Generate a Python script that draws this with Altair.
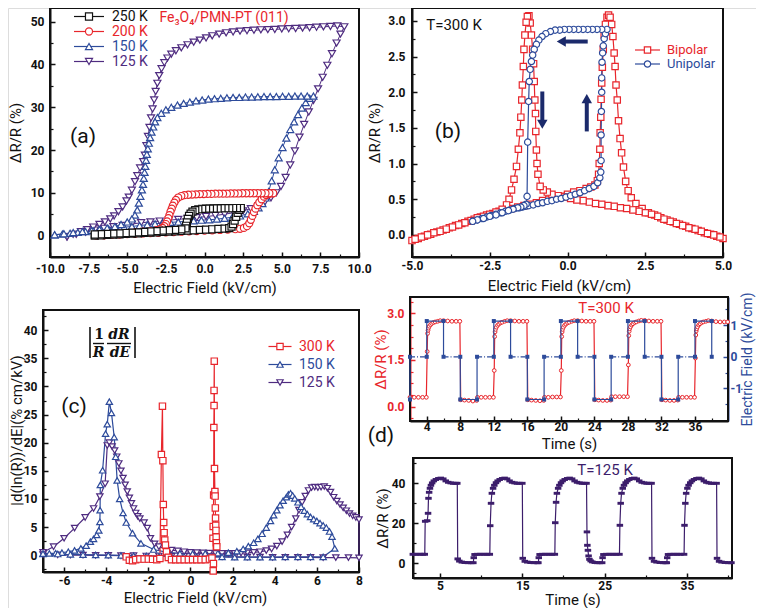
import altair as alt
import pandas as pd

FONT = "Roboto, Liberation Sans, sans-serif"
SERIF = "DejaVu Serif, Liberation Serif, serif"
BLACK = "#111111"
RED = "#e8262c"
BLUE = "#2d4b9b"
PURPLE = "#4f2c80"
NAVY = "#1b2a6b"
DPURPLE = "#3c1d6b"
W, H = 748, 600

# ---------------- panel (a): dR/R vs E loops ----------------
A_SERIES = ["250 K", "200 K", "150 K", "125 K"]
A_COLORS = [BLACK, RED, BLUE, PURPLE]
A_SHAPES = ["square", "circle", "triangle-up", "triangle-down"]
A_XTICKS = [-10, -7.5, -5, -2.5, 0, 2.5, 5, 7.5, 10]
A_XMINOR = [-8.75, -6.25, -3.75, -1.25, 1.25, 3.75, 6.25, 8.75]
A_YTICKS = [0, 10, 20, 30, 40, 50]
A_YMINOR = [5, 15, 25, 35, 45]

A250 = [(-7.1,0.0),(-6.7,0.08),(-6.3,0.16),(-5.9,0.23),(-5.5,0.31),(-5.1,0.39),(-4.7,0.47),(-4.3,0.55),(-3.9,0.62),(-3.5,0.7),
        (-3.1,0.78),(-2.7,0.86),(-2.3,0.94),(-1.9,1.01),(-1.5,1.09),(-1.1,1.17),(-0.7,1.25),(-0.3,1.33),(0.1,1.4),(0.5,1.48),
        (0.9,1.56),(1.3,1.64),(1.6,1.75),(1.75,2.1),(1.85,2.7),(1.95,3.5),(2.05,4.4),(2.15,5.3),(2.25,6.0),(2.35,6.45),
        (2.1,6.45),(1.85,6.45),(1.6,6.4),(1.35,6.4),(1.1,6.4),(0.85,6.35),(0.6,6.35),(0.35,6.3),(0.1,6.3),(-0.15,6.25),
        (-0.4,6.15),(-0.6,5.95),(-0.78,5.6),(-0.9,5.15),(-1.0,4.6),(-1.08,3.9),(-1.14,3.1),(-1.19,2.3),(-1.23,1.7),
        (-1.5,1.45),(-1.9,1.35),(-2.3,1.25),(-2.7,1.15),(-3.1,1.05),(-3.5,0.95),(-3.9,0.85),(-4.3,0.75),(-4.7,0.67),
        (-5.1,0.6),(-5.5,0.52),(-5.9,0.45),(-6.3,0.38),(-6.7,0.32),(-7.1,0.26)]
A200 = [(-7.0,0.0),(-6.5,0.08),(-6.0,0.17),(-5.5,0.25),(-5.0,0.33),(-4.5,0.41),(-4.0,0.5),(-3.5,0.58),(-3.0,0.66),(-2.5,0.74),
        (-2.0,0.83),(-1.5,0.91),(-1.0,0.99),(-0.5,1.07),(0.0,1.16),(0.5,1.24),(1.0,1.32),(1.5,1.4),(2.0,1.5),(2.3,1.6),
        (2.55,1.8),(2.75,2.2),(2.9,2.9),(3.0,3.7),(3.1,4.6),(3.2,5.5),(3.3,6.3),(3.42,7.1),(3.55,7.8),(3.7,8.5),(3.85,9.1),
        (4.0,9.5),(4.15,9.75),(4.3,9.85),(4.45,9.9),(4.2,9.9),(3.95,9.9),(3.7,9.9),(3.45,9.9),(3.2,9.9),(2.95,9.9),(2.7,9.9),
        (2.45,9.9),(2.2,9.85),(1.95,9.85),(1.7,9.85),(1.45,9.8),(1.2,9.8),(0.95,9.8),(0.7,9.8),(0.45,9.75),(0.2,9.75),
        (-0.05,9.7),(-0.3,9.7),(-0.55,9.65),(-0.8,9.6),(-1.05,9.55),(-1.3,9.45),(-1.5,9.25),(-1.7,8.9),(-1.85,8.35),
        (-1.95,7.7),(-2.05,7.0),(-2.12,6.3),(-2.2,5.6),(-2.27,4.8),(-2.34,4.1),(-2.42,3.3),(-2.5,2.7),(-2.6,2.2),(-2.72,1.8),
        (-2.88,1.5),(-3.1,1.25),(-3.5,1.05),(-4.0,0.9),(-4.5,0.75),(-5.0,0.6),(-5.5,0.48),(-6.0,0.36),(-6.5,0.25),(-7.0,0.15)]
A150 = [(-9.7,0.2),(-9.2,0.35),(-8.7,0.55),(-8.2,0.75),(-7.7,0.95),(-7.2,1.15),(-6.7,1.35),(-6.2,1.55),(-5.7,1.75),(-5.2,1.95),
        (-4.7,2.15),(-4.2,2.35),(-3.7,2.55),(-3.2,2.75),(-2.7,2.95),(-2.2,3.1),(-1.7,3.2),(-1.2,3.35),(-0.7,3.45),(-0.2,3.6),
        (0.3,3.7),(0.8,3.85),(1.3,4.05),(1.8,4.3),(2.3,4.6),(2.8,5.1),(3.2,5.7),(3.5,6.5),(3.75,7.5),(3.95,8.8),(4.15,10.3),
        (4.35,12.8),(4.55,15.4),(4.8,18.2),(5.05,20.6),(5.3,22.8),(5.55,24.8),(5.8,26.6),(6.05,28.3),(6.3,29.8),(6.55,31.1),
        (6.8,32.1),(7.05,32.6),(6.65,32.6),(6.25,32.6),(5.85,32.6),(5.45,32.55),(5.05,32.55),(4.65,32.5),(4.25,32.5),
        (3.85,32.5),(3.45,32.45),(3.05,32.4),(2.65,32.4),(2.25,32.3),(1.85,32.3),(1.45,32.2),(1.05,32.1),(0.65,32.0),
        (0.25,31.9),(-0.15,31.7),(-0.55,31.5),(-0.95,31.2),(-1.35,30.9),(-1.75,30.5),(-2.15,30.0),(-2.5,29.4),(-2.8,28.6),
        (-3.05,27.6),(-3.2,26.6),(-3.32,25.4),(-3.43,24.2),(-3.52,22.9),(-3.6,21.6),(-3.67,20.3),(-3.73,19.0),(-3.78,17.6),
        (-3.83,16.2),(-3.88,14.8),(-3.93,13.4),(-3.98,12.0),(-4.05,10.7),(-4.15,9.2),(-4.25,7.6),(-4.35,6.0),(-4.5,4.8),
        (-4.7,3.9),(-5.0,3.2),(-5.4,2.6),(-5.8,2.1),(-6.3,1.75),(-6.8,1.45),(-7.3,1.2),(-7.9,0.95),(-8.5,0.7),(-9.1,0.45),(-9.7,0.2)]
A125 = [(-8.9,-0.3),(-8.3,0.3),(-7.7,0.8),(-7.1,1.3),(-6.5,1.7),(-5.9,2.1),(-5.3,2.4),(-4.7,2.7),(-4.1,3.0),(-3.5,3.2),
        (-2.9,3.4),(-2.3,3.6),(-1.7,3.8),(-1.1,4.0),(-0.5,4.2),(0.1,4.45),(0.7,4.7),(1.3,5.0),(1.9,5.35),(2.5,5.8),(3.0,6.3),
        (3.5,7.0),(3.9,7.8),(4.3,8.8),(4.65,10.0),(4.95,11.5),(5.25,13.6),(5.55,16.5),(5.85,19.8),(6.15,23.0),(6.45,26.0),
        (6.75,28.9),(7.05,31.6),(7.35,34.3),(7.65,37.0),(7.95,39.8),(8.25,42.5),(8.55,45.0),(8.8,47.1),(9.05,48.8),
        (8.6,49.0),(8.15,48.9),(7.7,48.8),(7.25,48.7),(6.8,48.6),(6.35,48.5),(5.9,48.4),(5.45,48.35),(5.0,48.3),(4.55,48.2),
        (4.1,48.15),(3.65,48.1),(3.2,48.0),(2.75,47.9),(2.3,47.8),(1.85,47.6),(1.4,47.4),(0.95,47.1),(0.5,46.7),(0.1,46.2),
        (-0.3,45.7),(-0.7,45.2),(-1.1,44.6),(-1.5,43.9),(-1.85,43.2),(-2.15,42.4),(-2.4,41.5),(-2.6,40.4),(-2.78,39.0),
        (-2.93,37.4),(-3.05,35.6),(-3.16,33.7),(-3.26,31.7),(-3.36,29.6),(-3.46,27.5),(-3.56,25.3),(-3.66,23.2),(-3.76,21.0),
        (-3.86,18.8),(-3.97,17.3),(-4.17,15.8),(-4.35,14.0),(-4.5,12.6),(-4.7,10.6),(-4.9,9.0),(-5.05,8.1),(-5.3,6.7),
        (-5.57,5.6),(-5.85,4.6),(-6.1,3.9),(-6.45,3.2),(-6.8,2.6),(-7.2,2.0),(-7.6,1.4),(-8.0,0.9),(-8.5,0.3),(-8.9,-0.3)]

# ---------------- panel (b): bipolar / unipolar butterfly ----------------
B_SERIES = ["Bipolar", "Unipolar"]
B_COLORS = [RED, BLUE]
B_SHAPES = ["square", "circle"]
B_XTICKS = [-5, -2.5, 0, 2.5, 5]
B_XMINOR = [-3.75, -1.25, 1.25, 3.75]
B_YTICKS = [0, 0.5, 1.0, 1.5, 2.0, 2.5, 3.0]
B_YMINOR = [0.25, 0.75, 1.25, 1.75, 2.25, 2.75]
B_BIPOLAR = [(-5.0,-0.08),(-4.8,-0.05),(-4.6,-0.02),(-4.4,0.01),(-4.2,0.04),(-4.0,0.07),(-3.8,0.1),(-3.6,0.13),(-3.4,0.16),
        (-3.2,0.19),(-3.0,0.22),(-2.8,0.25),(-2.6,0.28),(-2.4,0.3),(-2.2,0.33),(-2.0,0.35),(-1.8,0.37),(-1.6,0.39),(-1.4,0.41),
        (-1.2,0.43),(-1.0,0.45),(-0.8,0.48),(-0.6,0.5),(-0.4,0.52),(-0.2,0.54),(0.0,0.57),(0.2,0.6),(0.4,0.62),(0.6,0.65),
        (0.75,0.67),(0.88,0.7),(0.96,0.76),(1.0,0.85),(1.02,1.0),(1.04,1.2),(1.05,1.43),(1.07,1.65),(1.08,1.9),(1.1,2.13),
        (1.12,2.35),(1.15,2.6),(1.18,2.8),(1.22,2.95),(1.27,3.05),(1.32,3.08),(1.37,3.05),(1.42,2.95),(1.46,2.78),(1.5,2.55),
        (1.53,2.36),(1.56,2.1),(1.6,1.89),(1.64,1.6),(1.69,1.35),(1.74,1.15),(1.8,0.95),(1.87,0.75),(1.95,0.62),(2.05,0.52),
        (2.2,0.44),(2.4,0.37),(2.6,0.31),(2.8,0.28),(3.0,0.24),(3.2,0.21),(3.4,0.18),(3.6,0.15),(3.8,0.12),(4.0,0.09),
        (4.2,0.06),(4.4,0.03),(4.6,0.01),(4.8,-0.02),(5.0,-0.05),(4.9,-0.03),(4.7,0.0),(4.5,0.02),(4.3,0.05),(4.1,0.08),
        (3.9,0.1),(3.7,0.13),(3.5,0.16),(3.3,0.19),(3.1,0.22),(2.9,0.26),(2.7,0.29),(2.5,0.31),(2.3,0.33),(2.1,0.35),
        (1.9,0.37),(1.7,0.38),(1.5,0.4),(1.3,0.41),(1.1,0.43),(0.9,0.44),(0.7,0.46),(0.5,0.48),(0.3,0.49),(0.1,0.51),
        (-0.1,0.53),(-0.3,0.55),(-0.5,0.57),(-0.65,0.6),(-0.78,0.63),(-0.88,0.68),(-0.95,0.85),(-0.98,1.0),(-1.0,1.19),
        (-1.02,1.45),(-1.03,1.7),(-1.05,1.89),(-1.07,2.15),(-1.09,2.4),(-1.12,2.6),(-1.16,2.8),(-1.2,2.97),(-1.24,3.07),
        (-1.29,3.06),(-1.33,2.98),(-1.37,2.8),(-1.4,2.6),(-1.42,2.36),(-1.45,2.1),(-1.47,1.89),(-1.5,1.65),(-1.53,1.43),
        (-1.58,1.2),(-1.64,0.96),(-1.72,0.78),(-1.8,0.63),(-1.88,0.5),(-1.96,0.42),(-2.1,0.36),(-2.3,0.32),(-2.5,0.29),
        (-2.7,0.26),(-2.9,0.24),(-3.1,0.2),(-3.3,0.17),(-3.5,0.14),(-3.7,0.11),(-3.9,0.08),(-4.1,0.05),(-4.3,0.03),
        (-4.5,0.0),(-4.7,-0.03),(-4.9,-0.06)]
B_UNIPOLAR = [(-3.05,0.19),(-2.9,0.21),(-2.75,0.23),(-2.6,0.25),(-2.45,0.27),(-2.3,0.29),(-2.15,0.31),(-2.0,0.33),(-1.85,0.35),
        (-1.7,0.37),(-1.55,0.38),(-1.45,0.39),(-1.35,0.4),(-1.25,0.41),(-1.1,0.42),(-0.95,0.44),(-0.8,0.45),(-0.65,0.47),
        (-0.5,0.48),(-0.35,0.5),(-0.2,0.51),(-0.05,0.53),(0.1,0.55),(0.25,0.57),(0.4,0.59),(0.55,0.62),(0.7,0.65),(0.85,0.68),
        (0.97,0.73),(1.04,0.8),(1.07,0.88),(1.08,1.04),(1.08,1.4),(1.09,1.73),(1.1,2.0),(1.1,2.2),(1.11,2.42),(1.13,2.55),
        (1.15,2.65),(1.18,2.75),(1.22,2.82),(1.27,2.88),(1.1,2.88),(0.95,2.88),(0.8,2.88),(0.65,2.88),(0.5,2.88),(0.35,2.88),
        (0.2,2.88),(0.05,2.88),(-0.1,2.88),(-0.25,2.87),(-0.4,2.87),(-0.55,2.85),(-0.7,2.82),(-0.82,2.78),(-0.92,2.73),
        (-1.0,2.67),(-1.07,2.6),(-1.12,2.52),(-1.16,2.43),(-1.2,2.32),(-1.23,2.15),(-1.25,1.87),(-1.28,1.3),(-1.3,0.54),
        (-1.33,0.43),(-1.4,0.41),(-1.5,0.39),(-1.6,0.38),(-1.75,0.36),(-1.9,0.34),(-2.1,0.31),(-2.3,0.28),(-2.5,0.26),
        (-2.7,0.23),(-2.9,0.21),(-3.05,0.19)]
# arrows: shaft start/end and head position/shape (data units)
B_ARROW_X = [0.65, -0.81, 0.62]
B_ARROW_Y = [2.71, 2.01, 1.45]
B_ARROW_X2 = [-0.12, -0.81, 0.62]
B_ARROW_Y2 = [2.71, 1.6, 1.86]
B_HEAD_X = [-0.2, -0.81, 0.62]
B_HEAD_Y = [2.71, 1.55, 1.91]
B_HEAD_SHAPE = ["triangle-left", "triangle-down", "triangle-up"]

# ---------------- panel (c): |d ln R / dE| ----------------
C_SERIES = ["300 K", "150 K", "125 K"]
C_COLORS = [RED, BLUE, PURPLE]
C_SHAPES = ["square", "triangle-up", "triangle-down"]
C_XTICKS = [-6, -4, -2, 0, 2, 4, 6, 8]
C_XMINOR = [-7, -5, -3, -1, 1, 3, 5, 7]
C_YTICKS = [0, 5, 10, 15, 20, 25, 30, 35, 40]
C_YMINOR = [-2.5, 2.5, 7.5, 12.5, 17.5, 22.5, 27.5, 32.5, 37.5, 42.5]
C300 = [(-3.05,-0.3),(-2.9,-0.9),(-2.75,-1.0),(-2.6,-0.8),(-2.4,-0.7),(-2.2,-0.7),(-2.0,-0.7),(-1.8,-0.75),(-1.6,-0.8),
        (-1.45,-0.6),(-1.38,17.9),(-1.33,26.5),(-1.31,16.8),(-1.29,9.0),(-1.27,5.8),(-1.25,4.0),(-1.22,2.7),(-1.19,1.8),
        (-1.14,0.6),(-1.05,-0.4),(-0.9,-0.8),(-0.7,-0.8),(-0.5,-0.8),(-0.3,-0.8),(-0.1,-0.8),(0.1,-0.8),(0.3,-0.8),(0.5,-0.8),
        (0.7,-0.8),(0.9,-0.7),(1.02,-0.5),(1.08,-2.8),(1.09,-1.5),(1.07,3.0),(1.08,5.1),(1.1,10.7),(1.11,22.7),(1.12,26.6),
        (1.12,29.3),(1.13,34.5),(1.14,15.4),(1.16,11.3),(1.17,10.5),(1.18,8.4),(1.19,6.6),(1.2,5.3),(1.21,4.4),(1.22,3.2),
        (1.23,2.2),(1.25,1.5)]
C150 = [(-7.0,0.2),(-6.7,0.3),(-6.4,0.35),(-6.1,0.45),(-5.8,0.6),(-5.5,0.85),(-5.2,1.2),(-4.95,1.7),(-4.75,2.4),(-4.6,2.9),
        (-4.45,3.6),(-4.35,4.4),(-4.3,5.9),(-4.29,8.0),(-4.28,12.5),(-4.17,15.1),(-4.03,21.6),(-3.95,23.3),(-3.85,27.3),
        (-3.75,25.3),(-3.62,21.0),(-3.55,17.5),(-3.48,13.3),(-3.36,10.0),(-3.2,7.5),(-3.05,5.8),(-2.75,3.9),(-2.35,2.1),
        (-1.75,1.0),(-1.1,0.5),(-0.5,0.3),(0.1,0.25),(0.7,0.3),(1.3,0.35),(1.8,0.45),(2.2,0.7),(2.5,1.1),(2.75,1.6),(3.0,2.2),
        (3.2,2.9),(3.4,3.8),(3.6,4.9),(3.8,6.1),(3.95,7.1),(4.1,8.0),(4.25,8.9),(4.4,9.7),(4.55,10.3),(4.65,10.8),(4.75,11.0),
        (4.85,10.6),(4.95,10.1),(5.1,9.4),(5.25,8.6),(5.4,7.9),(5.55,7.3),(5.7,6.8),(5.85,6.4),(6.0,6.1),(6.15,5.7),(6.3,5.3),
        (6.45,4.9),(6.6,4.2),(6.72,3.3),(6.85,1.2),(6.3,-0.3),(5.7,-0.3),(5.1,-0.3),(4.5,-0.3),(3.9,-0.35),(3.3,-0.35),
        (2.7,-0.35),(2.1,-0.35),(1.5,-0.3),(0.9,-0.3),(0.3,-0.3),(-0.3,-0.25),(-0.9,-0.2),(-1.5,-0.2),(-2.1,-0.15),
        (-2.7,-0.1),(-3.3,-0.05),(-3.9,0.0),(-4.5,0.05),(-5.1,0.1),(-5.7,0.15),(-6.3,0.2),(-7.0,0.25)]
C125 = [(-7.0,0.5),(-6.5,1.5),(-6.0,3.0),(-5.5,4.8),(-5.0,6.7),(-4.6,8.3),(-4.3,10.4),(-4.05,12.7),(-3.95,19.5),(-3.85,20.0),
        (-3.72,19.3),(-3.6,18.6),(-3.5,17.5),(-3.4,16.3),(-3.3,15.0),(-3.2,13.7),(-3.1,12.5),(-3.0,11.3),(-2.9,10.2),
        (-2.8,9.2),(-2.7,8.3),(-2.6,7.5),(-2.5,6.9),(-2.4,6.5),(-2.2,5.8),(-2.05,4.8),(-1.9,3.0),(-1.7,2.0),(-1.5,1.5),
        (-1.2,1.2),(-0.9,0.9),(-0.6,0.75),(-0.3,0.6),(0.0,0.5),(0.3,0.45),(0.6,0.4),(0.9,0.35),(1.2,0.3),(1.5,0.3),(1.8,0.3),
        (2.1,0.3),(2.4,0.35),(2.7,0.4),(3.0,0.5),(3.3,0.6),(3.6,0.8),(3.85,1.1),(4.1,1.6),(4.35,2.4),(4.6,3.6),(4.8,5.0),
        (5.0,6.5),(5.15,8.0),(5.3,9.4),(5.45,10.5),(5.6,11.5),(5.75,12.0),(5.9,12.1),(6.05,12.0),(6.2,12.1),(6.35,12.2),
        (6.5,11.9),(6.65,11.2),(6.8,10.3),(6.95,9.6),(7.1,9.0),(7.25,8.4),(7.4,7.9),(7.55,7.4),(7.7,7.0),(7.85,6.7),(8.0,6.3),
        (8.0,-0.5),(7.5,-0.45),(6.9,-0.45),(6.3,-0.45),(5.7,-0.4),(5.1,-0.4),(4.5,-0.4),(3.9,-0.4),(3.3,-0.35),(2.7,-0.35),
        (2.1,-0.3),(1.5,-0.3),(0.9,-0.25),(0.3,-0.25),(-0.3,-0.2),(-0.9,-0.2),(-1.5,-0.15),(-2.1,-0.15),(-2.7,-0.1),
        (-3.3,-0.1),(-3.9,-0.05),(-4.5,-0.05),(-5.1,0.0),(-5.7,0.0),(-6.3,0.05),(-7.0,0.1)]

# ---------------- panel (d): time response ----------------
D1_XTICKS = [4, 8, 12, 16, 20, 24, 28, 32, 36]
D1_XMINOR = [2, 6, 10, 14, 18, 22, 26, 30, 34, 38]
D1_YTICKS = [0.0, 1.5, 3.0]
D1_YMINOR = [-0.375, 0.375, 0.75, 1.125, 1.875, 2.25, 2.625, 3.375]
D1_ETICKS = [-1, 0, 1]
D1_EMINOR = [-1.5, -0.5, 0.5, 1.5]
D1_RED = [(2.0,0.3),(2.5,0.3),(3.0,0.3),(3.5,0.3),(3.95,0.3),(4.05,1.77),(4.1,2.35),(4.15,2.45),(4.2,2.52),(4.3,2.58),
        (4.45,2.63),(4.6,2.67),(4.8,2.7),(5.0,2.72),(5.3,2.74),(5.6,2.76),(6.0,2.76),(6.5,2.75),(7.0,2.74),(7.5,2.74),
        (7.95,2.74),(8.05,0.22),(8.5,0.21),(9.0,0.2),(9.5,0.18),(9.95,0.2),(10.05,0.3),(10.5,0.3),(11.0,0.3),(11.5,0.3),
        (11.95,0.3),(12.05,1.16),(12.1,2.25),(12.15,2.4),(12.2,2.48),(12.3,2.55),(12.45,2.61),(12.6,2.65),(12.8,2.69),
        (13.0,2.71),(13.3,2.74),(13.6,2.76),(14.0,2.76),(14.5,2.75),(15.0,2.74),(15.5,2.74),(15.95,2.74),(16.05,0.22),
        (16.5,0.21),(17.0,0.2),(17.5,0.19),(17.95,0.2),(18.05,0.3),(18.5,0.3),(19.0,0.31),(19.5,0.31),(19.95,0.31),
        (20.05,1.16),(20.1,2.25),(20.15,2.4),(20.2,2.48),(20.3,2.55),(20.45,2.61),(20.6,2.65),(20.8,2.69),(21.0,2.71),
        (21.3,2.74),(21.6,2.76),(22.0,2.76),(22.5,2.75),(23.0,2.74),(23.5,2.74),(23.95,2.74),(24.05,0.22),(24.5,0.21),
        (25.0,0.2),(25.5,0.2),(25.95,0.21),(26.05,0.32),(26.5,0.32),(27.0,0.32),(27.5,0.32),(27.95,0.32),(28.05,1.34),
        (28.1,2.28),(28.15,2.42),(28.2,2.5),(28.3,2.56),(28.45,2.62),(28.6,2.66),(28.8,2.7),(29.0,2.72),(29.3,2.75),
        (29.6,2.77),(30.0,2.77),(30.5,2.75),(31.0,2.74),(31.5,2.74),(31.95,2.74),(32.05,0.22),(32.5,0.21),(33.0,0.2),
        (33.5,0.2),(33.95,0.21),(34.05,0.3),(34.5,0.3),(35.0,0.3),(35.5,0.3),(35.95,0.3),(36.05,1.56),(36.1,2.3),
        (36.15,2.43),(36.2,2.5),(36.3,2.56),(36.45,2.62),(36.6,2.66),(36.8,2.7),(37.0,2.72),(37.3,2.74),(37.6,2.76),
        (38.0,2.75),(38.5,2.73),(39.0,2.72),(39.5,2.72),(39.9,2.72)]
D1_BLUE = [(2,-1.35),(2,0),(4,0),(4,1.13),(6,1.13),(6,0),(8,0),(8,-1.35),(10,-1.35),(10,0),(12,0),(12,1.13),(14,1.13),
        (14,0),(16,0),(16,-1.35),(18,-1.35),(18,0),(20,0),(20,1.13),(22,1.13),(22,0),(24,0),(24,-1.35),(26,-1.35),(26,0),
        (28,0),(28,1.13),(30,1.13),(30,0),(32,0),(32,-1.35),(34,-1.35),(34,0),(36,0),(36,1.13),(38,1.13),(38,0)]
D2_XTICKS = [5, 15, 25, 35]
D2_XMINOR = [10, 20, 30, 40]
D2_YTICKS = [0, 20, 40]
D2_YMINOR = [-5, 10, 30, 50]
D2 = [(1.7,4.5),(2.1,4.5),(2.5,4.5),(2.9,4.5),(3.15,4.5),(3.2,21.0),(3.45,21.3),(3.55,25.0),(3.6,32.5),(3.68,35.5),
      (3.78,37.5),(3.9,39.0),(4.05,40.2),(4.25,41.2),(4.5,41.9),(4.8,42.4),(5.1,42.6),(5.4,42.2),(5.7,41.2),(6.0,40.5),
      (6.3,40.2),(6.6,40.0),(6.9,40.0),(7.1,40.0),(7.15,2.2),(7.35,1.1),(7.65,0.6),(8.0,0.4),(8.4,0.3),(8.8,0.3),(9.05,0.3),
      (9.1,2.8),(9.2,4.4),(9.5,4.5),(9.9,4.5),(10.3,4.5),(10.7,4.5),(11.05,4.5),(11.1,18.8),(11.2,30.0),(11.3,35.0),
      (11.45,37.5),(11.6,39.0),(11.8,40.3),(12.0,41.2),(12.25,41.9),(12.55,42.4),(12.85,42.6),(13.15,42.2),(13.45,41.2),
      (13.75,40.5),(14.05,40.2),(14.35,40.0),(14.65,40.0),(15.0,40.0),(15.05,2.5),(15.3,1.0),(15.6,0.6),(16.0,0.4),
      (16.4,0.3),(16.8,0.3),(16.95,0.3),(17.0,2.8),(17.1,4.4),(17.4,4.5),(17.8,4.5),(18.2,4.5),(18.6,4.5),(18.95,4.5),
      (19.0,20.3),(19.1,30.5),(19.2,35.0),(19.35,37.5),(19.5,39.0),(19.7,40.3),(19.9,41.2),(20.15,41.9),(20.45,42.4),
      (20.75,42.6),(21.05,42.2),(21.35,41.2),(21.65,40.5),(21.95,40.2),(22.25,40.0),(22.55,40.0),(22.8,40.0),(22.85,15.7),
      (22.9,9.0),(22.97,6.5),(23.05,3.7),(23.15,2.0),(23.3,1.2),(23.5,0.7),(23.8,0.4),(24.1,0.3),(24.4,0.3),(24.7,0.3),
      (24.75,2.8),(24.85,4.4),(25.2,4.5),(25.6,4.5),(26.0,4.5),(26.4,4.5),(26.8,4.5),(26.85,19.0),(26.95,30.0),(27.05,35.0),
      (27.2,37.5),(27.35,39.0),(27.55,40.3),(27.75,41.2),(28.0,41.9),(28.3,42.4),(28.6,42.6),(28.9,42.2),(29.2,41.2),
      (29.5,40.5),(29.8,40.2),(30.1,40.0),(30.4,40.0),(30.7,40.0),(30.75,2.5),(31.0,1.0),(31.3,0.6),(31.7,0.4),(32.1,0.3),
      (32.4,0.3),(32.55,0.3),(32.6,2.8),(32.7,4.4),(33.0,4.5),(33.4,4.5),(33.8,4.5),(34.2,4.5),(34.65,4.5),(34.7,19.0),
      (34.8,30.0),(34.9,35.0),(35.05,37.5),(35.2,39.0),(35.4,40.3),(35.6,41.2),(35.85,41.9),(36.15,42.4),(36.45,42.6),
      (36.75,42.2),(37.05,41.2),(37.35,40.5),(37.65,40.2),(37.95,40.0),(38.25,40.0),(38.6,40.0),(38.65,2.5),(38.9,1.0),
      (39.2,0.6),(39.6,0.4),(40.0,0.3),(40.4,0.3)]

# ---------------- helpers ----------------
ONE = pd.DataFrame({"k": [0]})
MINUS_FIX = "replace(datum.label, '\u2212', '-')"


def series_frame(groups):
    rows = []
    for name, pairs in groups:
        for i, (e, r) in enumerate(pairs):
            rows.append({"E": e, "R": r, "idx": i, "s": name, "s2": name + " m"})
    return pd.DataFrame(rows)


def scale(dom, rng):
    return alt.Scale(domain=dom, range=rng, nice=False, zero=False)


def axis(values, fmt, title, orient, offset, lp, color=BLACK, tx=None, ty=None, angle=None, tfs=15):
    kw = dict(values=values, title=title, orient=orient, offset=offset, grid=False, domainColor=color,
              domainWidth=2, tickColor=color, tickWidth=1.5, tickSize=alt.ExprRef(expr="-5"), labelColor=color,
              titleColor=color, labelFont=FONT, labelFontSize=12, labelFontWeight="bold", titleFont=FONT,
              titleFontSize=tfs, titleFontWeight="normal", labelPadding=lp, labelFlush=False, labelOverlap=False,
              titleBaseline="middle", labelExpr=MINUS_FIX)
    if fmt:
        kw["format"] = fmt
    if tx is not None:
        kw["titleX"] = tx
    if ty is not None:
        kw["titleY"] = ty
    if angle is not None:
        kw["titleAngle"] = angle
    return alt.Axis(**kw)


def minor_axis(values, orient, offset, color=BLACK):
    return alt.Axis(values=values, orient=orient, offset=offset, title=None, labels=False, domain=False, grid=False,
                    tickColor=color, tickWidth=1.2, tickSize=alt.ExprRef(expr="-3"))


def minor_layer(xs, ys, xdom, ydom, xvals, yvals, xoff, yoff, ycolor=BLACK, yorient="left"):
    xa = minor_axis(xvals, "bottom", xoff) if xvals else None
    ya = minor_axis(yvals, yorient, yoff, ycolor)
    return alt.Chart(ONE).mark_point(opacity=0, size=1).encode(
        x=alt.XDatum(xdom[0], type="quantitative", scale=xs, axis=xa),
        y=alt.YDatum(ydom[0], type="quantitative", scale=ys, axis=ya))


def color_expr(names, colors):
    expr = "'" + colors[-1] + "'"
    for n, c in reversed(list(zip(names[:-1], colors[:-1]))):
        expr = "datum.label == '" + n + "' ? '" + c + "' : (" + expr + ")"
    return expr


def line_legend(x, y, rowpad, names, colors, half, size, loff, fs):
    return alt.Legend(orient="none", legendX=x, legendY=y, title=None, direction="vertical",
                      symbolType="M-%s,0H%s" % (half, half), symbolSize=size, symbolStrokeWidth=1.2,
                      symbolFillColor="transparent", labelFont=FONT, labelFontSize=fs,
                      labelColor=alt.ExprRef(expr=color_expr(names, colors)), labelOffset=loff,
                      rowPadding=rowpad, padding=0)


def marker_legend(x, y, rowpad, size, loff, fs):
    return alt.Legend(orient="none", legendX=x, legendY=y, title=None, direction="vertical",
                      symbolSize=size, symbolStrokeWidth=1.2, symbolFillColor="white", labelFont=FONT,
                      labelFontSize=fs, labelExpr="' '", labelOffset=loff, rowPadding=rowpad, padding=0)


def frame(xs, ys, xdom, ydom, xaxis, yaxis):
    return alt.Chart(ONE).mark_rect(fill="transparent", stroke=BLACK, strokeWidth=2).encode(
        x=alt.XDatum(xdom[0], type="quantitative", scale=xs, axis=xaxis), x2=alt.X2Datum(xdom[1]),
        y=alt.YDatum(ydom[0], type="quantitative", scale=ys, axis=yaxis), y2=alt.Y2Datum(ydom[1]))


def series_layers(df, xs, ys, xaxis, yaxis, names, colors, shapes, msize, lw, legA, legB):
    x = alt.X("E:Q", scale=xs, axis=xaxis)
    y = alt.Y("R:Q", scale=ys, axis=yaxis)
    lines = alt.Chart(df).mark_line(strokeWidth=lw).encode(
        x=x, y=y, order="idx:Q",
        color=alt.Color("s:N", scale=alt.Scale(domain=names, range=colors), legend=legA))
    names2 = [n + " m" for n in names]
    pts = alt.Chart(df).mark_point(filled=True, fill="white", size=msize, strokeWidth=1.2, opacity=1).encode(
        x=x, y=y,
        stroke=alt.Stroke("s2:N", scale=alt.Scale(domain=names2, range=colors), legend=legB),
        shape=alt.Shape("s2:N", scale=alt.Scale(domain=names2, range=shapes), legend=legB))
    return [lines, pts]


def txt(text, x, y, size, color=BLACK, font=FONT, weight="normal", style="normal", align="center"):
    return alt.Chart(ONE).mark_text(text=text, fontSize=size, font=font, color=color, fontWeight=weight,
                                    fontStyle=style, align=align, baseline="middle").encode(
        x=alt.value(x), y=alt.value(y))


def hrule(x1, x2, y, width=1.5, color=BLACK):
    return alt.Chart(ONE).mark_rule(color=color, strokeWidth=width).encode(
        x=alt.value(x1), x2=alt.value(x2), y=alt.value(y))


def vrule(x, y1, y2, width=1.5, color=BLACK):
    return alt.Chart(ONE).mark_rule(color=color, strokeWidth=width).encode(
        x=alt.value(x), y=alt.value(y1), y2=alt.value(y2))


# ---------------- panel a ----------------
A_XDOM, A_YDOM = [-10, 10], [-5, 53.2]
axs, ays = scale(A_XDOM, [42, 351]), scale(A_YDOM, [249, 0])
df_a = series_frame([("125 K", A125), ("150 K", A150), ("200 K", A200), ("250 K", A250)])
ax_ax = axis(A_XTICKS, ".1f", "Electric Field (kV/cm)", "bottom", 249 - H, 11.5, ty=30)
ax_ay = axis(A_YTICKS, "d", "ΔR/R (%)", "left", -42, 11, tx=-35)
panel_a = alt.layer(
    frame(axs, ays, A_XDOM, A_YDOM, ax_ax, ax_ay),
    *series_layers(df_a, axs, ays, ax_ax, ax_ay, A_SERIES, A_COLORS, A_SHAPES, 50, 1.0,
                   line_legend(74, 1.5, 1, A_SERIES, A_COLORS, 4.24, 50, 16, 14),
                   marker_legend(74, 1.5, 1, 50, 16, 14)),
    txt("Fe₃O₄/PMN-PT (011)", 216, 10, 14, color=RED),
    txt("(a)", 75, 129, 21))
minor_a = minor_layer(axs, ays, A_XDOM, A_YDOM, A_XMINOR, A_YMINOR, 249 - H, -42)

# ---------------- panel b ----------------
B_XDOM, B_YDOM = [-5, 5], [-0.31, 3.18]
bxs, bys = scale(B_XDOM, [404, 715]), scale(B_YDOM, [249, 0])
df_b = series_frame([("Bipolar", B_BIPOLAR), ("Unipolar", B_UNIPOLAR)])
ax_bx = axis(B_XTICKS, ".1f", "Electric Field (kV/cm)", "bottom", 249 - H, 8.5, tx=551, ty=28)
ax_by = axis(B_YTICKS, ".1f", "ΔR/R (%)", "left", -404, 12, tx=-38)
arrow_df = pd.DataFrame({"x": B_ARROW_X, "y": B_ARROW_Y, "x2": B_ARROW_X2, "y2": B_ARROW_Y2})
head_df = pd.DataFrame({"x": B_HEAD_X, "y": B_HEAD_Y})
shafts = alt.Chart(arrow_df).mark_rule(color=NAVY, strokeWidth=4).encode(
    x=alt.X("x:Q", scale=bxs, axis=ax_bx), x2="x2:Q",
    y=alt.Y("y:Q", scale=bys, axis=ax_by), y2="y2:Q")
heads = [alt.Chart(head_df.iloc[[i]]).mark_point(shape=B_HEAD_SHAPE[i], filled=True, color=NAVY, size=110,
                                                 opacity=1).encode(
    x=alt.X("x:Q", scale=bxs, axis=ax_bx), y=alt.Y("y:Q", scale=bys, axis=ax_by)) for i in range(len(B_HEAD_SHAPE))]
panel_b = alt.layer(
    frame(bxs, bys, B_XDOM, B_YDOM, ax_bx, ax_by),
    *series_layers(df_b, bxs, bys, ax_bx, ax_by, B_SERIES, B_COLORS, B_SHAPES, 40, 1.2,
                   line_legend(633, 35.5, 0, B_SERIES, B_COLORS, 3.95, 40, 13, 13),
                   marker_legend(633, 35.5, 0, 40, 13, 13)),
    shafts, *heads,
    txt("T=300 K", 446, 17, 15),
    txt("(b)", 440, 124, 21))
minor_b = minor_layer(bxs, bys, B_XDOM, B_YDOM, B_XMINOR, B_YMINOR, 249 - H, -404)

# ---------------- panel c ----------------
C_XDOM, C_YDOM = [-7, 8], [-3.0, 43.6]
cxs, cys = scale(C_XDOM, [35, 351]), scale(C_YDOM, [564, 302])
df_c = series_frame([("125 K", C125), ("150 K", C150), ("300 K", C300)])
ax_cx = axis(C_XTICKS, "d", "Electric Field (kV/cm)", "bottom", 564 - H, 8.5, tx=187, ty=25)
ax_cy = axis(C_YTICKS, "d", "|d(ln(R))/dE|(% cm/kV)", "left", -35, 11, tx=-27, ty=422)
panel_c = alt.layer(
    frame(cxs, cys, C_XDOM, C_YDOM, ax_cx, ax_cy),
    *series_layers(df_c, cxs, cys, ax_cx, ax_cy, C_SERIES, C_COLORS, C_SHAPES, 40, 1.2,
                   line_legend(265, 331.5, 4, C_SERIES, C_COLORS, 3.64, 40, 12, 14),
                   marker_legend(265, 331.5, 4, 40, 12, 14)),
    vrule(82, 319, 350, 1.6), vrule(127, 319, 350, 1.6),
    hrule(85, 96, 335.5, 1.4), hrule(99, 123, 335.5, 1.4),
    txt("1", 91, 326.5, 14, font=SERIF, weight="bold"),
    txt("dR", 111, 326.5, 14, font=SERIF, weight="bold", style="italic"),
    txt("R", 90.5, 344.5, 14, font=SERIF, weight="bold", style="italic"),
    txt("dE", 112, 344.5, 14, font=SERIF, weight="bold", style="italic"),
    txt("(c)", 66, 399, 21))
minor_c = minor_layer(cxs, cys, C_XDOM, C_YDOM, C_XMINOR, C_YMINOR, 564 - H, -35)

# ---------------- panel d (top) ----------------
D1_XDOM, D1_YDOM, D1_EDOM = [2.0, 39.94], [-0.46, 3.52], [-2.03, 1.89]
d1xs, d1ys, d1es = scale(D1_XDOM, [402, 720]), scale(D1_YDOM, [413, 289]), scale(D1_EDOM, [413, 289])
d1_red = pd.DataFrame([{"t": t, "R": r, "idx": i} for i, (t, r) in enumerate(D1_RED)])
d1_blue = pd.DataFrame([{"t": t, "E": e} for t, e in D1_BLUE])
seg_rows = []
for (t1, e1), (t2, e2) in zip(D1_BLUE[:-1], D1_BLUE[1:]):
    seg_rows.append({"t1": t1, "t2": t2, "e1": e1, "e2": e2,
                     "dash": "dash" if (e1 == 0 and e2 == 0) else "solid"})
d1_seg = pd.DataFrame(seg_rows)
ax_d1x = axis(D1_XTICKS, "d", "Time (s)", "bottom", 413 - H, 5.5, ty=22)
ax_d1y = axis(D1_YTICKS, ".1f", "ΔR/R (%)", "left", -402, 11, color=RED, tx=-30)
ax_d1e = axis(D1_ETICKS, "d", "Electric Field (kV/cm)", "right", 720 - W, 7, color=BLUE, tx=19, angle=270, tfs=14)
red_line = alt.Chart(d1_red).mark_line(color=RED, strokeWidth=1.2).encode(
    x=alt.X("t:Q", scale=d1xs, axis=ax_d1x), y=alt.Y("R:Q", scale=d1ys, axis=ax_d1y), order="idx:Q")
red_pts = alt.Chart(d1_red).mark_point(shape="circle", size=14, stroke=RED, fill="white", filled=True,
                                       strokeWidth=1, opacity=1).encode(
    x=alt.X("t:Q", scale=d1xs, axis=ax_d1x), y=alt.Y("R:Q", scale=d1ys, axis=ax_d1y))
blue_seg = alt.Chart(d1_seg).mark_rule(color=BLUE, strokeWidth=1.2).encode(
    x=alt.X("t1:Q", scale=d1xs, axis=ax_d1x), x2="t2:Q",
    y=alt.Y("e1:Q", scale=d1es, axis=ax_d1e), y2="e2:Q",
    strokeDash=alt.StrokeDash("dash:N", scale=alt.Scale(domain=["solid", "dash"], range=[[1, 0], [5, 2, 1, 2]]),
                              legend=None))
blue_pts = alt.Chart(d1_blue).mark_point(shape="square", filled=True, size=16, color=BLUE, opacity=1).encode(
    x=alt.X("t:Q", scale=d1xs, axis=ax_d1x), y=alt.Y("E:Q", scale=d1es, axis=ax_d1e))
panel_d1 = alt.layer(alt.layer(frame(d1xs, d1ys, D1_XDOM, D1_YDOM, ax_d1x, ax_d1y), red_line, red_pts),
                     alt.layer(blue_seg, blue_pts),
                     txt("T=300 K", 598, 300, 15, color=RED),
                     txt("(d)", 373, 428, 21)).resolve_scale(y="independent")
minor_d1 = minor_layer(d1xs, d1ys, D1_XDOM, D1_YDOM, D1_XMINOR, D1_YMINOR, 413 - H, -402, ycolor=RED)
minor_d1e = minor_layer(d1xs, d1es, D1_XDOM, D1_EDOM, None, D1_EMINOR, 0, 720 - W, ycolor=BLUE, yorient="right")

# ---------------- panel d (bottom) ----------------
D2_XDOM, D2_YDOM = [1.72, 40.47], [-7.35, 52.65]
d2xs, d2ys = scale(D2_XDOM, [405, 724]), scale(D2_YDOM, [570, 450])
d2_df = pd.DataFrame([{"t": t, "R": r, "idx": i} for i, (t, r) in enumerate(D2)])
ax_d2x = axis(D2_XTICKS, "d", "Time (s)", "bottom", 570 - H, 7.5, ty=21)
ax_d2y = axis(D2_YTICKS, "d", "ΔR/R (%)", "left", -405, 13, tx=-31)
d2_line = alt.Chart(d2_df).mark_line(color=DPURPLE, strokeWidth=1.2).encode(
    x=alt.X("t:Q", scale=d2xs, axis=ax_d2x), y=alt.Y("R:Q", scale=d2ys, axis=ax_d2y), order="idx:Q")
d2_pts = alt.Chart(d2_df).mark_point(shape="M-1,-0.45H1V0.45H-1Z", filled=True, size=42, color=DPURPLE,
                                     opacity=1).encode(
    x=alt.X("t:Q", scale=d2xs, axis=ax_d2x), y=alt.Y("R:Q", scale=d2ys, axis=ax_d2y))
panel_d2 = alt.layer(frame(d2xs, d2ys, D2_XDOM, D2_YDOM, ax_d2x, ax_d2y), d2_line, d2_pts,
                     txt("T=125 K", 597, 462, 15, color=DPURPLE))
minor_d2 = minor_layer(d2xs, d2ys, D2_XDOM, D2_YDOM, D2_XMINOR, D2_YMINOR, 570 - H, -405)

# ---------------- assemble ----------------
chart = alt.layer(panel_a, panel_b, panel_c, panel_d1, panel_d2,
                  minor_a, minor_b, minor_c, minor_d1, minor_d1e, minor_d2).resolve_scale(
    x="independent", y="independent", color="independent", stroke="independent", shape="independent",
    strokeDash="independent").properties(
    width=W, height=H, padding=0, autosize=alt.AutoSizeParams(type="none")).configure_view(
    stroke="transparent").configure(font=FONT)

chart.save("out.html", embed_options={"renderer": "svg", "actions": False})
